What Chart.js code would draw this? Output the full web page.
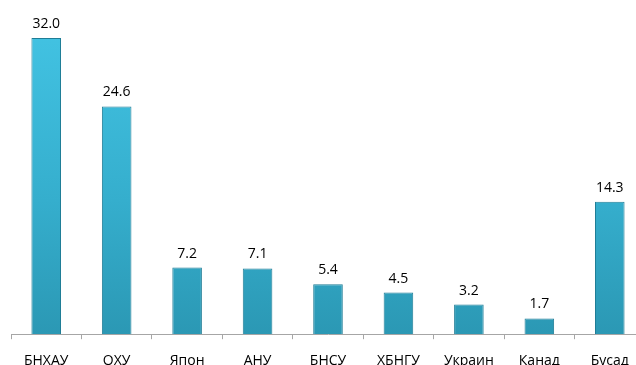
<!DOCTYPE html>
<html>
<head>
<meta charset="utf-8">
<script src="https://cdn.jsdelivr.net/npm/chart.js@4/dist/chart.umd.min.js"></script>
<style>
  body { margin: 0; overflow: hidden; background: #fff; }
  #wrap { width: 660px; height: 382px; }
</style>
</head>
<body>
<div id="wrap"><canvas id="bar-chart"></canvas></div>
<script>
// Chart data
var countries = ['БНХАУ', 'ОХУ', 'Япон', 'АНУ', 'БНСУ', 'ХБНГУ', 'Украин', 'Канад', 'Бусад'];
var shares = [32.0, 24.6, 7.2, 7.1, 5.4, 4.5, 3.2, 1.7, 14.3];

var barFill = function (context) {
  var chart = context.chart;
  var area = chart.chartArea;
  if (!area) {
    return '#38b2d2';
  }
  var g = chart.ctx.createLinearGradient(0, area.top, 0, area.bottom);
  g.addColorStop(0, '#44c6e6');
  g.addColorStop(0.6, '#35aecd');
  g.addColorStop(1, '#2b98b4');
  return g;
};

// value labels above the bars
var valueLabels = {
  id: 'valueLabels',
  afterDatasetsDraw: function (chart) {
    var ctx = chart.ctx;
    var meta = chart.getDatasetMeta(0);
    ctx.save();
    ctx.font = '14px "Open Sans"';
    ctx.fillStyle = '#000';
    ctx.textAlign = 'center';
    ctx.textBaseline = 'bottom';
    meta.data.forEach(function (bar, i) {
      ctx.fillText(shares[i].toFixed(1), bar.x, bar.y - 7);
    });
    ctx.restore();
  }
};

var barctx = document.getElementById('bar-chart').getContext('2d');
var barChart = new Chart(barctx, {
  type: 'bar',
  data: {
    labels: countries,
    datasets: [{
      data: shares,
      backgroundColor: barFill,
      borderColor: '#1f7d96',
      borderWidth: 1,
      categoryPercentage: 1,
      barPercentage: 0.42
    }]
  },
  options: {
    responsive: true,
    maintainAspectRatio: false,
    animation: false,
    layout: { padding: { left: 11, right: 15, top: 1, bottom: 0 } },
    plugins: {
      legend: { display: false },
      tooltip: { enabled: false }
    },
    scales: {
      y: {
        display: false,
        min: 0,
        max: 36
      },
      x: {
        border: { color: '#a6a6a6', width: 1 },
        grid: { drawOnChartArea: false, drawTicks: true, tickLength: 5, color: '#a6a6a6', offset: true },
        ticks: { color: '#000', font: { family: 'Open Sans', size: 14 }, padding: 13, maxRotation: 0 }
      }
    }
  },
  plugins: [valueLabels]
});
</script>
</body>
</html>
